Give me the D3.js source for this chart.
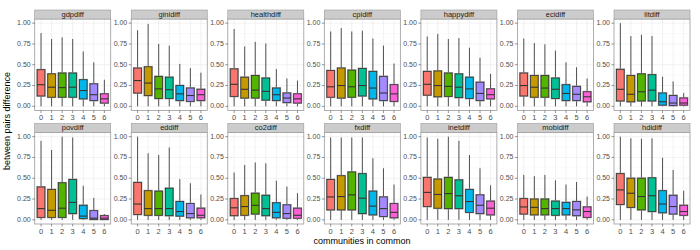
<!DOCTYPE html>
<html><head><meta charset="utf-8">
<script src="https://cdn.jsdelivr.net/npm/d3@7"></script>
<style>body{margin:0;background:#fff}svg{display:block}text{font-family:"Liberation Sans",Arial,sans-serif}</style>
</head><body><svg id="c" width="700" height="250"></svg>
<script>
const categories = ["0","1","2","3","4","5","6"];
const panels = ["gdpdiff","ginidiff","healthdiff","cpidiff","happydiff","ecidiff","litdiff",
                "povdiff","eddiff","co2diff","fxdiff","inetdiff","mobidiff","hdidiff"];
const yTicks = [0, 0.25, 0.5, 0.75, 1.0];
const yTickLabels = ["0.00","0.25","0.50","0.75","1.00"];
const colors = ["#F8766D","#C49A00","#53B400","#00C094","#00B6EB","#A58AFF","#FB61D7"];

const upper = [
 [0.88,0.81,0.83,0.81,0.66,0.53,0.32],
 [0.915,0.99,0.75,0.73,0.51,0.46,0.405],
 [0.93,0.72,0.775,0.755,0.45,0.335,0.31],
 [0.90,0.94,0.90,0.91,0.815,0.73,0.515],
 [0.84,0.87,0.81,0.82,0.705,0.585,0.39],
 [0.815,0.76,0.745,0.67,0.53,0.47,0.335],
 [1.00,0.845,0.86,0.845,0.355,0.30,0.16],
 [0.95,0.84,1.0,0.99,0.41,0.265,0.07],
 [1.0,0.80,0.78,0.87,0.49,0.44,0.305],
 [0.57,0.66,0.69,0.68,0.47,0.40,0.32],
 [0.99,0.99,0.99,0.99,0.74,0.62,0.425],
 [0.99,0.975,1.0,0.95,0.78,0.62,0.415],
 [0.54,0.525,0.54,0.475,0.425,0.455,0.28],
 [1.0,0.98,0.975,0.98,0.745,0.60,0.35]
];
const q3 = [
 [0.44,0.39,0.40,0.40,0.32,0.27,0.15],
 [0.46,0.475,0.36,0.35,0.25,0.22,0.205],
 [0.45,0.35,0.37,0.34,0.22,0.16,0.15],
 [0.43,0.46,0.435,0.455,0.42,0.36,0.26],
 [0.42,0.425,0.40,0.39,0.35,0.29,0.21],
 [0.40,0.37,0.37,0.34,0.26,0.24,0.175],
 [0.445,0.37,0.39,0.38,0.16,0.13,0.10],
 [0.395,0.365,0.445,0.485,0.175,0.11,0.05],
 [0.45,0.35,0.345,0.38,0.22,0.195,0.14],
 [0.255,0.29,0.32,0.295,0.205,0.18,0.14],
 [0.485,0.53,0.575,0.555,0.345,0.275,0.195],
 [0.51,0.49,0.51,0.48,0.365,0.30,0.225],
 [0.255,0.25,0.25,0.225,0.21,0.22,0.155],
 [0.555,0.50,0.50,0.505,0.35,0.295,0.175]
];
const median = [
 [0.26,0.23,0.225,0.23,0.19,0.14,0.09],
 [0.31,0.28,0.21,0.20,0.15,0.13,0.14],
 [0.265,0.205,0.195,0.18,0.14,0.10,0.09],
 [0.235,0.25,0.235,0.25,0.22,0.16,0.15],
 [0.265,0.25,0.24,0.23,0.21,0.155,0.14],
 [0.25,0.23,0.22,0.205,0.155,0.145,0.115],
 [0.205,0.145,0.175,0.195,0.055,0.04,0.04],
 [0.135,0.115,0.14,0.21,0.045,0.02,0.02],
 [0.19,0.135,0.135,0.135,0.10,0.075,0.055],
 [0.145,0.16,0.175,0.135,0.09,0.075,0.055],
 [0.275,0.28,0.30,0.26,0.165,0.135,0.09],
 [0.33,0.305,0.315,0.29,0.22,0.175,0.14],
 [0.155,0.15,0.135,0.135,0.135,0.12,0.10],
 [0.36,0.32,0.28,0.29,0.19,0.16,0.10]
];
const q1 = [
 [0.125,0.11,0.11,0.11,0.09,0.07,0.04],
 [0.16,0.13,0.095,0.095,0.07,0.06,0.07],
 [0.12,0.10,0.10,0.075,0.07,0.045,0.04],
 [0.11,0.10,0.11,0.125,0.09,0.07,0.06],
 [0.135,0.115,0.12,0.105,0.095,0.07,0.09],
 [0.125,0.11,0.11,0.095,0.07,0.07,0.055],
 [0.065,0.055,0.065,0.065,0.015,0.01,0.015],
 [0.03,0.03,0.03,0.075,0.015,0.005,0.005],
 [0.065,0.055,0.055,0.05,0.045,0.025,0.025],
 [0.05,0.055,0.07,0.05,0.025,0.02,0.02],
 [0.12,0.12,0.12,0.075,0.06,0.04,0.025],
 [0.16,0.14,0.135,0.135,0.09,0.075,0.06],
 [0.07,0.06,0.06,0.055,0.06,0.05,0.03],
 [0.185,0.15,0.12,0.10,0.085,0.07,0.055]
];
const lower = [
 [0,0,0,0,0,0,0],[0,0,0,0,0,0,0],[0,0,0,0,0,0,0],[0,0,0,0,0,0,0],
 [0,0,0,0,0,0,0],[0,0,0,0,0,0,0],[0,0,0,0,0,0,0],[0,0,0,0,0,0,0],
 [0,0,0,0,0,0,0],[0,0,0,0,0,0,0],[0,0,0,0,0,0,0],[0,0,0,0,0,0,0],
 [0,0,0,0,0,0,0],[0,0,0,0,0,0,0]
];

const svg = d3.select("#c");
const nCol = 7;
const panelW = 76;
const colX = d3.scaleLinear().domain([0, 6]).range([34.7, 34.7 + 6*96.55]);
const rowTop = [19, 132.5];
const panelH = 91.5;
const stripH = 9;
const x = d3.scaleBand().domain(categories).range([0, panelW]).paddingOuter(0.0);
const xl = d3.scaleLinear().domain([-0.6, 6.6]).range([0, panelW]);
const y = d3.scaleLinear().domain([-0.05, 1.05]).range([panelH, 0]);
const boxW = xl(0.36) - xl(0);

panels.forEach((name, p) => {
  const col = p % nCol, row = Math.floor(p / nCol);
  const g = svg.append("g").attr("transform", `translate(${colX(col)},${rowTop[row]})`);
  g.append("rect").attr("width", panelW).attr("height", panelH).attr("fill", "#fff");
  // minor grid
  [0.125,0.375,0.625,0.875].forEach(v => g.append("line").attr("x1",0).attr("x2",panelW)
    .attr("y1",y(v)).attr("y2",y(v)).attr("stroke","#F5F5F5").attr("stroke-width",0.5));
  yTicks.forEach(v => g.append("line").attr("x1",0).attr("x2",panelW)
    .attr("y1",y(v)).attr("y2",y(v)).attr("stroke","#E5E5E5").attr("stroke-width",0.5));
  categories.forEach((c,i) => g.append("line").attr("x1",xl(i)).attr("x2",xl(i))
    .attr("y1",0).attr("y2",panelH).attr("stroke","#E5E5E5").attr("stroke-width",0.5));
  // boxes
  categories.forEach((c,i) => {
    const cx = xl(i);
    g.append("line").attr("x1",cx).attr("x2",cx).attr("y1",y(upper[p][i])).attr("y2",y(q3[p][i]))
      .attr("stroke","#333").attr("stroke-width",1).attr("stroke-opacity",0.85);
    g.append("line").attr("x1",cx).attr("x2",cx).attr("y1",y(q1[p][i])).attr("y2",y(lower[p][i]))
      .attr("stroke","#333").attr("stroke-width",1).attr("stroke-opacity",0.85);
    g.append("rect").attr("x",cx-boxW).attr("width",2*boxW)
      .attr("y",y(q3[p][i])).attr("height",y(q1[p][i])-y(q3[p][i]))
      .attr("fill",colors[i]).attr("stroke","#999").attr("stroke-width",1.8);
    g.append("rect").attr("x",cx-boxW).attr("width",2*boxW)
      .attr("y",y(q3[p][i])).attr("height",y(q1[p][i])-y(q3[p][i]))
      .attr("fill",colors[i]).attr("stroke","#333").attr("stroke-width",0.8);
    g.append("line").attr("x1",cx-boxW).attr("x2",cx+boxW).attr("y1",y(median[p][i])).attr("y2",y(median[p][i]))
      .attr("stroke","#333").attr("stroke-width",1.1);
  });
  g.append("rect").attr("width",panelW).attr("height",panelH).attr("fill","none")
    .attr("stroke","#999").attr("stroke-width",0.8);
  // strip
  g.append("rect").attr("y",-stripH).attr("width",panelW).attr("height",stripH)
    .attr("fill","#CCCCCC").attr("stroke","#999").attr("stroke-width",0.6);
  g.append("text").attr("x",panelW/2).attr("y",-stripH/2+0.5).attr("text-anchor","middle")
    .attr("dominant-baseline","middle").attr("font-size",7.5).attr("fill","#1a1a1a").text(name);
  // y axis
  yTicks.forEach((v,k) => {
    g.append("line").attr("x1",-2.5).attr("x2",0).attr("y1",y(v)).attr("y2",y(v)).attr("stroke","#4D4D4D").attr("stroke-width",0.6);
    g.append("text").attr("x",-4).attr("y",y(v)).attr("text-anchor","end").attr("dominant-baseline","middle")
      .attr("font-size",7).attr("fill","#4D4D4D").text(yTickLabels[k]);
  });
  // x axis
  categories.forEach((c,i) => {
    g.append("line").attr("x1",xl(i)).attr("x2",xl(i)).attr("y1",panelH).attr("y2",panelH+2.5).attr("stroke","#4D4D4D").attr("stroke-width",0.6);
    g.append("text").attr("x",xl(i)).attr("y",panelH+9.5).attr("text-anchor","middle")
      .attr("font-size",7.5).attr("fill","#4D4D4D").text(c);
  });
});

svg.append("text").attr("transform","translate(10,121) rotate(-90)").attr("text-anchor","middle")
  .attr("font-size",9).attr("fill","#000").text("between pairs difference");
svg.append("text").attr("x",362).attr("y",244).attr("text-anchor","middle")
  .attr("font-size",9).attr("fill","#000").text("communities in common");
</script></body></html>
